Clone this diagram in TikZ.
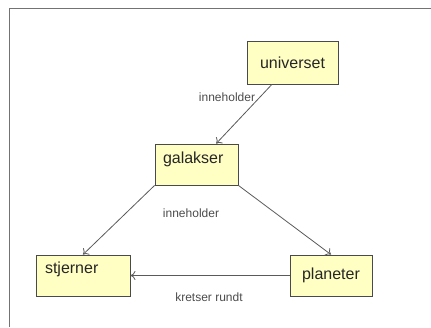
\documentclass[tikz,border=0pt]{standalone}
\usepackage{fontspec}
\setmainfont{Liberation Sans}
\usepackage{xcolor}
\usetikzlibrary{arrows.meta}
\definecolor{boxfill}{HTML}{FFFFC4}
\definecolor{boxline}{HTML}{4A4A4A}
\definecolor{arrowline}{HTML}{5A5A5A}

\begin{document}
\begin{tikzpicture}[x=1pt,y=-1pt]
\tikzset{box/.style={draw=boxline,fill=boxfill,line width=0.9pt,minimum height=41pt,inner sep=0pt,font=\fontsize{16}{18}\selectfont,text=black!85},
  lab/.style={font=\fontsize{12}{14}\selectfont,text=black!70},
  rel/.style={draw=arrowline,line width=0.8pt,-{To[length=5pt,width=9pt]}}}
\useasboundingbox (0,0) rectangle (431,327);
\draw[black!55,line width=1pt] (431,8) -- (9,8) -- (9,327);

\node[box,minimum width=91pt,minimum height=43pt] (univ) at (292.5,62.5) {universet};
\node[box,minimum width=83pt,text width=67pt,align=left,text depth=13pt] (gal) at (196.5,164.5) {galakser};
\node[box,minimum width=94pt,text width=76pt,align=left,text depth=16pt] (stj) at (83,275.5) {stjerner};
\node[box,minimum width=82pt] (pla) at (331,275.5) {planeter};

\node[lab] (inn1) at (227,97) {inneholder};
\node[lab] (inn2) at (191,213) {inneholder};
\node[lab] (kret) at (209,297) {kretser rundt};

\draw[rel] (univ) -- (gal);
\draw[rel] (gal.south west) -- (stj.north);
\draw[rel] (gal.south east) -- (pla.north);
\draw[rel] (pla.west) -- (stj.east);
\end{tikzpicture}
\end{document}
